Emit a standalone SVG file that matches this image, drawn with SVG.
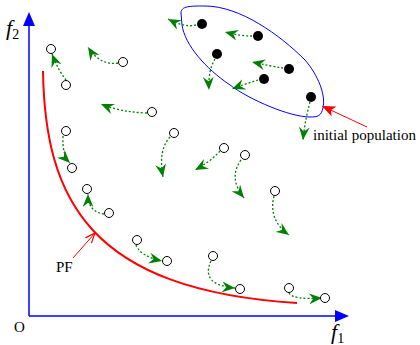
<svg xmlns="http://www.w3.org/2000/svg" width="420" height="345" viewBox="0 0 420 345">
<style>
.ax{stroke:#0000ff;stroke-width:1.5;fill:none}
.axh{fill:#0000ff}
.mv{stroke:#008000;stroke-width:1.3;stroke-dasharray:2 2;fill:none;marker-end:url(#g)}
.o{fill:#fff;stroke:#000;stroke-width:1}
.b{fill:#000}
.t{font-family:"Liberation Serif",serif;font-size:15px;fill:#000}
.it{font-family:"Liberation Serif",serif;font-style:italic;font-size:22px;fill:#000}
.sub{font-family:"Liberation Serif",serif;font-style:normal;font-size:14px;fill:#000}
</style>
<defs>
<marker id="g" viewBox="0 0 12 10" refX="12" refY="5" markerWidth="13" markerHeight="11" markerUnits="userSpaceOnUse" orient="auto">
<path d="M0,0 L12,5 L0,10 L4,5 Z" fill="#008000"/>
</marker>
<marker id="r" viewBox="0 0 12 10" refX="12" refY="5" markerWidth="14" markerHeight="11" markerUnits="userSpaceOnUse" orient="auto">
<path d="M0,0 L12,5 L0,10 L3,5 Z" fill="#ff0000"/>
</marker>
<marker id="ro" viewBox="0 0 12 10" refX="11" refY="5" markerWidth="12" markerHeight="10" markerUnits="userSpaceOnUse" orient="auto">
<path d="M1,1 L11,5 L1,9" fill="none" stroke="#ff0000" stroke-width="1.2"/>
</marker>
</defs>
<rect width="420" height="345" fill="#fff"/>
<g id="axes">
<line class="ax" x1="29" y1="316" x2="29" y2="24"/>
<line class="ax" x1="29" y1="316" x2="336" y2="316"/>
<path class="axh" d="M29,12 L35,26 L23,26 Z"/>
<path class="axh" d="M349,316 L335,310 L335,322 Z"/>
<text class="it" x="6" y="35">f<tspan class="sub" dy="4">2</tspan></text>
<text class="it" x="331" y="339">f<tspan class="sub" dy="4">1</tspan></text>
<text class="t" x="14" y="332">O</text>
</g>
<g id="pareto-front">
<path d="M43,71 C45,200 90,290 297,303" fill="none" stroke="#ff0000" stroke-width="2"/>
<text class="t" x="56" y="272">PF</text>
<line x1="73" y1="258" x2="95" y2="233" stroke="#ff0000" stroke-width="1" marker-end="url(#ro)"/>
</g>
<g id="initial-population">
<path d="M181,13 C181,6 190,6 205,6 C240,6 280,35 305,60 C318,75 326,95 323,108 C321,116 318,117 310,117 C290,117 250,100 230,85 C205,68 185,45 182,25 Z" fill="none" stroke="#0000ff" stroke-width="1"/>
<line x1="367" y1="127" x2="322" y2="106" stroke="#ff0000" stroke-width="1" marker-end="url(#r)"/>
<text class="t" x="313" y="140">initial population</text>
</g>
<g id="connectors">
<path class="mv" d="M196,25 Q185,28 168,19"/>
<path class="mv" d="M252,36 Q240,36 225,32"/>
<path class="mv" d="M215,59 Q208,70 209,90"/>
<path class="mv" d="M283,68 Q270,66 252,62"/>
<path class="mv" d="M258,80 Q245,84 232,89"/>
<path class="mv" d="M310,102 Q305,120 303,140"/>
<path class="mv" d="M66,80 Q58,70 52,54"/>
<path class="mv" d="M118,63 Q100,66 88,47"/>
<path class="mv" d="M147,113 Q120,112 101,104"/>
<path class="mv" d="M170,137 Q158,150 163,177"/>
<path class="mv" d="M220,151 Q210,162 195,170"/>
<path class="mv" d="M241,160 Q228,178 244,198"/>
<path class="mv" d="M274,196 Q268,220 289,235"/>
<path class="mv" d="M63,136 Q62,155 70,163"/>
<path class="mv" d="M104,214 Q88,212 88,194"/>
<path class="mv" d="M136,245 Q140,256 162,261"/>
<path class="mv" d="M211,261 Q200,285 235,288"/>
<path class="mv" d="M289,293 Q293,300 322,298"/>
</g>
<g id="p1"><circle class="b" cx="202" cy="24" r="5"/></g>
<g id="p2"><circle class="b" cx="258" cy="36" r="5"/></g>
<g id="p3"><circle class="b" cx="217" cy="54" r="5"/></g>
<g id="p4"><circle class="b" cx="289" cy="69" r="5"/></g>
<g id="p5"><circle class="b" cx="264" cy="79" r="5"/></g>
<g id="p6"><circle class="b" cx="311" cy="97" r="5"/></g>
<g id="s1"><circle class="o" cx="51" cy="49" r="4.5"/></g>
<g id="s2"><circle class="o" cx="66" cy="85" r="4.5"/></g>
<g id="s3"><circle class="o" cx="123" cy="62" r="4.5"/></g>
<g id="s4"><circle class="o" cx="152" cy="112" r="4.5"/></g>
<g id="s5"><circle class="o" cx="66" cy="131" r="4.5"/></g>
<g id="s6"><circle class="o" cx="72" cy="168" r="4.5"/></g>
<g id="s7"><circle class="o" cx="174" cy="133" r="4.5"/></g>
<g id="s8"><circle class="o" cx="224" cy="148" r="4.5"/></g>
<g id="s9"><circle class="o" cx="245" cy="155" r="4.5"/></g>
<g id="s10"><circle class="o" cx="275" cy="191" r="4.5"/></g>
<g id="s11"><circle class="o" cx="87" cy="189" r="4.5"/></g>
<g id="s12"><circle class="o" cx="109" cy="213" r="4.5"/></g>
<g id="s13"><circle class="o" cx="137" cy="240" r="4.5"/></g>
<g id="s14"><circle class="o" cx="167" cy="261" r="4.5"/></g>
<g id="s15"><circle class="o" cx="213" cy="256" r="4.5"/></g>
<g id="s16"><circle class="o" cx="240" cy="289" r="4.5"/></g>
<g id="s17"><circle class="o" cx="289" cy="288" r="4.5"/></g>
<g id="s18"><circle class="o" cx="325" cy="298" r="4.5"/></g>
</svg>
